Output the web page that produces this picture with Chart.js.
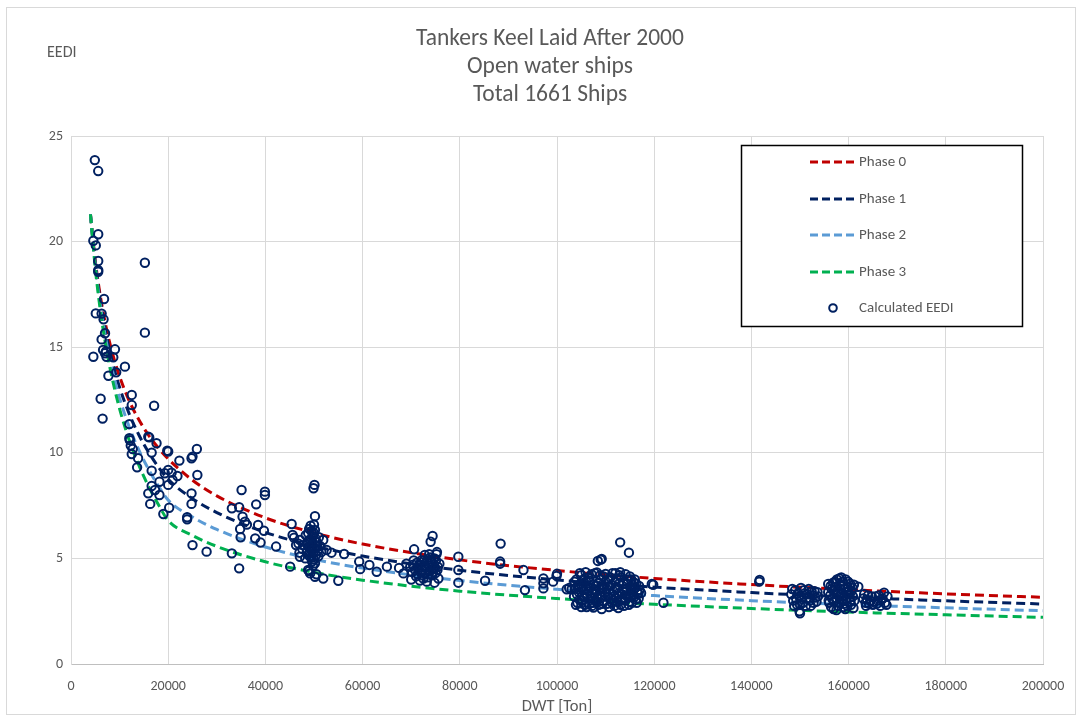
<!DOCTYPE html>
<html>
<head>
<meta charset="utf-8">
<script src="https://cdn.jsdelivr.net/npm/chart.js@4.4.1/dist/chart.umd.min.js"></script>
<style>
  html, body { margin: 0; padding: 0; background: #ffffff; }
  #wrap { width: 1082px; height: 722px; }
</style>
</head>
<body>
<div id="wrap"><canvas id="c" width="1082" height="722"></canvas></div>
<script>
// ---------- data ----------
const titleLines = ["Tankers Keel Laid After 2000", "Open water ships", "Total 1661 Ships"];
const yAxisLabel = "EEDI";
const xAxisLabel = "DWT [Ton]";
const seriesNames = ["Phase 0", "Phase 1", "Phase 2", "Phase 3", "Calculated EEDI"];

const curveDWT = [4000, 5000, 6000, 7000, 8000, 9000, 10000, 12000, 14000, 16000, 18000, 20000, 25000, 30000, 40000, 50000, 60000, 80000, 100000, 120000, 140000, 160000, 180000, 200000];
const phase0 = [21.29, 19.09, 17.47, 16.20, 15.18, 14.33, 13.61, 12.45, 11.55, 10.82, 10.22, 9.71, 8.70, 7.96, 6.92, 6.21, 5.68, 4.93, 4.43, 4.05, 3.76, 3.52, 3.32, 3.16];
const phase1 = [21.29, 18.97, 17.25, 15.90, 14.80, 13.88, 13.10, 11.83, 10.83, 10.01, 9.32, 8.74, 7.83, 7.17, 6.23, 5.59, 5.11, 4.44, 3.98, 3.64, 3.38, 3.17, 2.99, 2.84];
const phase2 = [21.29, 18.85, 17.03, 15.59, 14.42, 13.44, 12.59, 11.21, 10.11, 9.20, 8.43, 7.76, 6.96, 6.37, 5.54, 4.96, 4.54, 3.95, 3.54, 3.24, 3.00, 2.81, 2.66, 2.52];
const phase3 = [21.29, 18.73, 16.81, 15.29, 14.04, 12.99, 12.08, 10.58, 9.39, 8.39, 7.54, 6.79, 6.09, 5.57, 4.84, 4.34, 3.97, 3.45, 3.10, 2.83, 2.63, 2.46, 2.33, 2.21];

// ships: [DWT, EEDI]
const shipsSmall = [
  [4900,23.86],[5600,23.34],[5600,20.35],[4600,20.04],[5100,19.82],[5600,19.08],[5600,18.65],[5600,18.57],
  [15200,19.0],[6800,17.28],[5100,16.6],[6300,16.59],[6700,16.32],[7000,15.66],[15200,15.69],[6300,15.37],
  [6600,14.87],[7000,14.71],[9050,14.9],[4600,14.55],[7300,14.55],[8700,14.52],[11100,14.08],[7700,13.65],
  [9300,13.81],[6100,12.56],[12500,12.74],[12500,12.26],[17100,12.23],[6500,11.62],[12000,11.36],[12000,10.69],
  [15900,10.76],[7200,14.8],[12100,10.6],[12300,10.34],[12500,9.94],[12700,10.18],[13800,9.74],[13600,9.31],
  [16100,10.73],[17600,10.45],[16600,10.01],[19800,10.1],[20000,10.06],[16600,9.15],[20000,9.19],[19300,9.03],
  [20700,9.06],[21900,8.9],[20900,8.71],[18200,8.63],[16600,8.43],[17300,8.24],[15900,8.08],[18200,8.0],
  [20000,8.48],[16300,7.58],[19000,7.1],[20200,7.4],[22300,9.63],[24800,9.74],[25000,9.82],[25900,10.18],
  [26000,8.95],[24800,8.08],[24800,7.58],[23900,6.95],[23900,6.85],[25000,5.63],[27900,5.32],[33100,5.24]
];
const shipsMid = [
  [35100,8.24],[39900,8.16],[39900,8.0],[38100,7.56],[33100,7.37],[34600,7.42],[35300,6.97],[35800,6.74],
  [36200,6.6],[38500,6.58],[39700,6.31],[34800,6.39],[34900,6.0],[37900,5.95],[39000,5.75],[42200,5.56],
  [45400,6.63],[45600,6.11],[45900,5.98],[46300,5.63],[47000,5.27],[34600,4.53],
  [50100,8.48],[49900,8.32],[50200,7.0],[45100,4.61],[47100,5.87],[47800,5.63],[47100,5.08],[48800,4.45],
  [49200,4.29],[50200,4.13],[51900,4.05],[55000,3.94],[50200,4.77],[50500,5.56],[51900,5.87],[52600,5.4],
  [53600,5.27],[56200,5.21],[59300,4.85],[59500,4.49],[61400,4.69],[62900,4.37],[65000,4.61],[68400,4.29],
  [49000,6.4],[49500,6.3],[50000,6.2],[49800,6.05],[50300,5.95],[49200,5.9],[48700,5.8],[50600,5.75],
  [49600,5.7],[48900,5.55],[50100,5.5],[49400,5.4],[50800,5.35],[48500,5.3],[49900,5.25],[50400,5.15],
  [49100,5.1],[48200,5.0],[50000,4.95],[49600,4.85],[51200,5.6],[47600,5.45],[49300,6.55],[50000,6.6],
  [48300,6.1],[51000,6.0],[46800,5.7],[49800,4.65],[49000,4.4],[50500,4.25],
  [48600,5.65],[49300,5.75],[49700,6.15],[50200,6.35],[50700,5.55],[49500,5.05],[48800,6.2],[50400,5.8],
  [49000,5.25],[49700,5.4],[50900,5.1],[51500,5.3]
];
const shipsAframax = [
  [74400,6.06],[74000,5.79],[70600,5.43],[72800,5.16],[70500,4.9],[71200,4.8],[72000,4.7],[72800,4.65],
  [73500,4.75],[74200,4.85],[74800,5.0],[75200,5.2],[75500,4.6],[74600,4.5],[73800,4.4],[73000,4.3],
  [72200,4.45],[71400,4.55],[70200,4.35],[69800,4.6],[71000,4.15],[72500,4.05],[73400,4.1],[74300,4.2],
  [75000,4.3],[75600,4.05],[74800,3.85],[73200,3.9],[71800,3.95],[70000,4.0],[72600,4.9],[73900,5.05],
  [75300,5.3],[67500,4.55],[69000,4.75],[74000,4.95],[75800,4.75],
  [70400,4.7],[70800,4.45],[71300,4.25],[71600,4.7],[72100,4.9],[72400,4.2],[72900,4.55],[73300,4.9],
  [73600,4.25],[74100,4.65],[74500,4.35],[74900,4.55],[75400,4.45],[75100,4.9],[73700,5.2],[71900,4.35],
  [79700,5.08],[79700,4.45],[79700,3.85],[85200,3.94],[88400,5.7],[88300,4.85],[88300,4.75],[93100,4.45],
  [93400,3.5],[97200,4.05],[97200,3.82],[97200,3.58],[99200,3.9],[99900,4.17],[100000,4.27],[102000,3.54],[103000,3.54]
];
const shipsSuezmax = [
  [103500,3.2],[103800,3.6],[104000,4.0],[104200,2.9],[104500,3.4],[104800,3.8],[105000,4.2],[105200,3.0],
  [105500,3.5],[105800,2.8],[106000,3.9],[106200,3.3],[106500,4.1],[106800,3.6],[107000,3.1],[107200,2.75],
  [107500,3.75],[107800,4.3],[108000,3.45],[108200,2.95],[108500,3.85],[108800,3.25],[109000,4.0],[109200,3.6],
  [109500,3.0],[109800,3.4],[110000,3.9],[104300,3.7],[105300,3.25],[106300,3.7],[107300,3.4],[108300,3.1],
  [109300,3.75],[105000,2.7],[106700,2.85],
  [110500,3.2],[110800,3.7],[111000,4.1],[111300,2.9],[111600,3.45],[111900,3.9],[112200,3.1],[112500,3.6],
  [112800,4.2],[113100,2.8],[113400,3.3],[113700,3.8],[114000,3.0],[114300,3.55],[114600,4.0],[114900,2.95],
  [115200,3.4],[115500,3.75],[115800,3.15],[116100,3.6],[116400,2.9],[116700,3.35],[117000,3.5],[110700,2.7],
  [112000,4.3],[113000,4.35],[115000,4.15],[116000,4.0],[111500,3.0],[113500,3.1],[117300,3.36],
  [103600,3.9],[103900,2.8],[104100,3.3],[104600,3.05],[104700,4.3],[105100,3.65],[105400,4.0],[105700,3.2],
  [105900,4.35],[106100,2.7],[106400,3.45],[106600,3.95],[106900,3.2],[107100,4.25],[107400,2.9],[107600,3.55],
  [107900,3.0],[108100,3.7],[108600,2.8],[108700,3.55],[108900,4.2],[109100,3.15],[109400,2.85],[109600,4.15],
  [109900,3.2],[110200,3.55],[110300,2.85],[110600,4.0],[110900,3.35],[111200,3.75],[111400,4.3],[111700,3.2],
  [111800,2.75],[112100,3.6],[112300,4.05],[112400,2.95],[112700,3.35],[112900,3.85],[113200,4.1],[113300,3.05],
  [113600,3.55],[113800,2.75],[114100,4.25],[114200,3.25],[114400,3.8],[114700,3.15],[114800,2.8],[115100,3.6],
  [115300,4.0],[115400,2.9],[115600,3.3],[115900,3.85],[116200,3.05],[116300,3.8],[116500,3.45],[116800,3.1],
  [116900,3.7],[104400,3.55],[105600,3.85],[107700,3.3],[109700,3.7],[111100,3.1],[113900,3.4],[115700,3.5],
  [113000,5.76],[114800,5.27],[109200,4.97],[109000,4.94],[102500,3.6],[108400,4.88],[108200,4.34],[110000,4.26],
  [119500,3.79],[119800,3.75],[121900,2.9],[107500,2.67],[109200,2.6],[112600,2.65],[105000,2.87]
];
const shipsLarge = [
  [141600,3.9],[141700,3.98],
  [148200,3.3],[148600,3.0],[149000,3.5],[149400,2.8],[149800,3.2],[150200,3.6],[150600,2.9],[151000,3.35],
  [151400,3.1],[151800,3.55],[152200,2.75],[152600,3.25],[153000,3.45],[153400,2.95],[153700,3.2],[150000,2.4],[149900,2.5],
  [148400,3.55],[148800,2.75],[149200,3.1],[149600,3.35],[150000,2.8],[150400,3.15],[150800,3.5],[151200,2.75],
  [151600,3.3],[152000,3.0],[152400,3.45],[152800,2.9],[153200,3.15],[153600,3.4],
  [155800,3.79],[155800,3.4],[156000,2.9],[156300,3.7],[156600,3.1],[156900,2.6],[157200,3.9],[157500,3.3],
  [157800,2.75],[158100,4.05],[158400,3.55],[158700,3.0],[159000,3.75],[159300,2.6],[159600,3.4],[159900,3.9],
  [160200,3.15],[160500,2.8],[160800,3.6],[161200,3.0],[157000,3.5],[158000,3.2],[159000,2.85],[160000,3.45],
  [158500,4.1],[157500,2.55],[162000,3.66],
  [155900,3.0],[156200,3.25],[156400,2.7],[156500,3.55],[156800,3.85],[157000,2.95],[157300,3.65],[157400,3.1],
  [157600,4.0],[157900,3.45],[158200,2.9],[158300,3.75],[158600,3.3],[158800,3.9],[158900,2.7],[159100,3.2],
  [159200,3.55],[159400,4.0],[159500,3.0],[159700,2.75],[159800,3.65],[160100,3.3],[160300,3.8],[160400,2.95],
  [160600,3.45],[160900,3.2],[161000,2.65],[161100,3.75],
  [163000,3.1],[163500,2.9],[164000,3.25],[164500,3.0],[165000,2.8],[165500,3.2],[166000,3.0],[166500,2.75],
  [167000,3.1],[167500,2.9],[168000,3.2],[167300,3.38],[164200,2.85],
  [163200,3.3],[163800,3.05],[164800,3.2],[165200,2.95],[165800,2.85],[166200,3.25],[166800,3.05],[167800,2.8],[163600,2.75]
];

const yTicks = [0, 5, 10, 15, 20, 25];
const xTicks = [0, 20000, 40000, 60000, 80000, 100000, 120000, 140000, 160000, 180000, 200000];

// ---------- build ----------
const FONT = "Carlito, Calibri, Lato, sans-serif";
const GRAY = "#595959";
const phaseColors = ["#C00000", "#002060", "#5B9BD5", "#00B050"];
const phaseData = [phase0, phase1, phase2, phase3];
const ships = [].concat(shipsSmall, shipsMid, shipsAframax, shipsSuezmax, shipsLarge);

const datasets = phaseData.map((arr, i) => ({
  label: seriesNames[i],
  type: 'line',
  data: curveDWT.map((x, k) => ({ x: x, y: arr[k] })),
  borderColor: phaseColors[i],
  backgroundColor: phaseColors[i],
  borderWidth: 3,
  borderDash: [9, 5],
  pointRadius: 0,
  fill: false,
  cubicInterpolationMode: 'monotone',
  order: 4 - i
}));
datasets.push({
  label: seriesNames[4],
  type: 'scatter',
  data: ships.map(p => ({ x: p[0], y: p[1] })),
  borderColor: "#002060",
  backgroundColor: "rgba(0,0,0,0)",
  borderWidth: 2,
  pointRadius: 4.2,
  pointStyle: 'circle',
  showLine: false,
  order: 0
});

const decorPlugin = {
  id: 'decor',
  beforeDraw(chart) {
    const ctx = chart.ctx;
    ctx.save();
    ctx.fillStyle = '#ffffff';
    ctx.fillRect(0, 0, chart.width, chart.height);
    ctx.strokeStyle = '#D9D9D9';
    ctx.lineWidth = 1;
    ctx.strokeRect(6.5, 7.5, 1069, 707);
    ctx.restore();
  },
  afterDraw(chart) {
    const ctx = chart.ctx;
    ctx.save();
    // title
    ctx.fillStyle = GRAY;
    ctx.font = "23.5px " + FONT;
    ctx.textAlign = 'center';
    ctx.textBaseline = 'middle';
    const ty = [39, 67, 95];
    titleLines.forEach((t, i) => ctx.fillText(t, 550, ty[i]));
    // y axis label
    ctx.font = "16px " + FONT;
    ctx.textAlign = 'left';
    ctx.fillText(yAxisLabel, 47, 53);
    // legend box
    const bx = 741, by = 145, bw = 281, bh = 181;
    ctx.fillStyle = '#ffffff';
    ctx.fillRect(bx, by, bw, bh);
    ctx.strokeStyle = '#000000';
    ctx.lineWidth = 1.5;
    ctx.strokeRect(bx + 0.5, by + 0.5, bw, bh);
    const rows = [162, 199, 235, 272, 308];
    chart.data.datasets.forEach((ds, i) => {
      const y = rows[i];
      if (ds.type === 'line') {
        ctx.strokeStyle = ds.borderColor;
        ctx.lineWidth = 3;
        ctx.setLineDash([8, 4]);
        ctx.beginPath();
        ctx.moveTo(810, y);
        ctx.lineTo(856, y);
        ctx.stroke();
        ctx.setLineDash([]);
      } else {
        ctx.strokeStyle = ds.borderColor;
        ctx.lineWidth = 2;
        ctx.beginPath();
        ctx.arc(833, y, 3.8, 0, Math.PI * 2);
        ctx.stroke();
      }
      ctx.fillStyle = GRAY;
      ctx.font = "15px " + FONT;
      ctx.textAlign = 'left';
      ctx.textBaseline = 'middle';
      ctx.fillText(ds.label, 859, y);
    });
    ctx.restore();
  }
};

new Chart(document.getElementById('c'), {
  type: 'scatter',
  data: { datasets: datasets },
  plugins: [decorPlugin],
  options: {
    responsive: false,
    animation: false,
    devicePixelRatio: 1,
    layout: { padding: { top: 136, right: 39, bottom: 0, left: 0 } },
    plugins: { legend: { display: false }, tooltip: { enabled: false }, title: { display: false } },
    scales: {
      x: {
        type: 'linear', min: 0, max: 200000,
        afterBuildTicks: s => { s.ticks = xTicks.map(v => ({ value: v })); },
        afterFit: s => { s.height = 58; },
        ticks: { color: GRAY, font: { family: FONT, size: 14 }, padding: 14, maxRotation: 0, autoSkip: false, callback: v => String(v) },
        grid: { color: '#D9D9D9', drawTicks: false, lineWidth: 1 },
        border: { color: '#BFBFBF', width: 1 },
        title: { display: true, text: xAxisLabel, color: GRAY, font: { family: FONT, size: 16.5 }, padding: { top: 0, bottom: 5 } }
      },
      y: {
        type: 'linear', min: 0, max: 25,
        afterBuildTicks: s => { s.ticks = yTicks.map(v => ({ value: v })); },
        afterFit: s => { s.width = 71; },
        ticks: { color: GRAY, font: { family: FONT, size: 14 }, padding: 8, callback: v => String(v) },
        grid: { color: '#D9D9D9', drawTicks: false, lineWidth: 1 },
        border: { color: '#D9D9D9', width: 1 }
      }
    }
  }
});
</script>
</body>
</html>
